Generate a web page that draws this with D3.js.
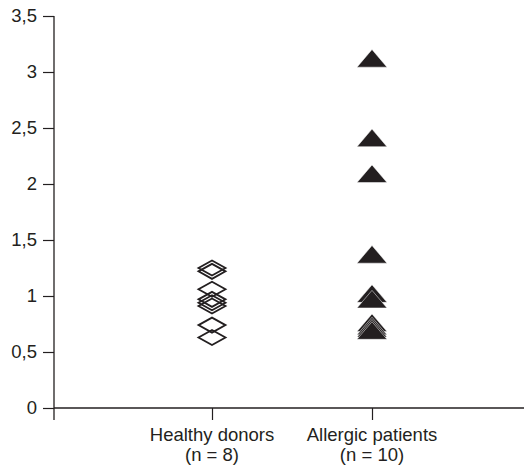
<!DOCTYPE html>
<html>
<head>
<meta charset="utf-8">
<script src="https://cdn.jsdelivr.net/npm/d3@7"></script>
<style>
  body { margin: 0; background: #fff; }
  text { font-family: "Liberation Sans", Arial, sans-serif; fill: #231f20; }
</style>
</head>
<body>
<div id="chart"></div>
<script>
// groups on the x axis
var groups = ["Healthy donors", "Allergic patients"];
var groupN = ["(n = 8)", "(n = 10)"];
// values
var healthy = [1.25, 1.22, 1.06, 0.97, 0.94, 0.91, 0.74, 0.63];
var allergic = [3.12, 2.41, 2.09, 1.37, 1.02, 0.97, 0.76, 0.73, 0.71, 0.69];
var yTicks = [0, 0.5, 1, 1.5, 2, 2.5, 3, 3.5];

var width = 526, height = 465;
var ink = "#231f20";

var svg = d3.select("#chart").append("svg")
    .attr("width", width)
    .attr("height", height);

var x = d3.scalePoint()
    .domain(groups)
    .range([52, 532])
    .padding(1);

var y = d3.scaleLinear()
    .domain([0, 3.5])
    .range([408, 16]);

// y axis
var yAxis = svg.append("g")
    .attr("transform", "translate(54,0)")
    .call(d3.axisLeft(y)
        .tickValues(yTicks)
        .tickSize(11)
        .tickPadding(6)
        .tickFormat(function(d) { return String(d).replace(".", ","); }));
yAxis.select(".domain").remove();
yAxis.selectAll(".tick line").attr("stroke", ink).attr("stroke-width", 1.2);
yAxis.selectAll(".tick text")
    .attr("font-size", 18.5)
    .attr("fill", ink);

svg.append("line")
    .attr("x1", 54).attr("x2", 54)
    .attr("y1", y(3.5)).attr("y2", y(0) + 12)
    .attr("stroke", ink).attr("stroke-width", 1.3);

// x axis
var xAxis = svg.append("g")
    .attr("transform", "translate(0," + y(0) + ")")
    .call(d3.axisBottom(x).tickSize(12).tickFormat(""));
xAxis.select(".domain").remove();
xAxis.selectAll(".tick line").attr("stroke", ink).attr("stroke-width", 1.2);

svg.append("line")
    .attr("x1", 54).attr("x2", 524)
    .attr("y1", y(0)).attr("y2", y(0))
    .attr("stroke", ink).attr("stroke-width", 1.3);

// category labels, two lines
groups.forEach(function(g, i) {
    var t = svg.append("text")
        .attr("x", x(g))
        .attr("y", 441)
        .attr("text-anchor", "middle")
        .attr("font-size", 18.5);
    t.append("tspan").attr("x", x(g)).text(g);
    t.append("tspan").attr("x", x(g)).attr("dy", 20).text(groupN[i]);
});

// marker shapes
var line = d3.line();
var diamond = line([[0, -7.5], [13.5, 0], [0, 7.5], [-13.5, 0]]) + "Z";
var triangle = line([[0, -9], [15, 8.6], [-15, 8.6]]) + "Z";

svg.append("g").selectAll("path")
    .data(healthy)
    .enter()
    .append("path")
        .attr("d", diamond)
        .attr("transform", function(d) { return "translate(" + x(groups[0]) + "," + y(d) + ")"; })
        .attr("fill", "none")
        .attr("stroke", ink)
        .attr("stroke-width", 1.8);

svg.append("g").selectAll("path")
    .data(allergic)
    .enter()
    .append("path")
        .attr("d", triangle)
        .attr("transform", function(d) { return "translate(" + x(groups[1]) + "," + y(d) + ")"; })
        .attr("fill", ink)
        .attr("stroke", "#fff")
        .attr("stroke-width", 0.5);
</script>
</body>
</html>
